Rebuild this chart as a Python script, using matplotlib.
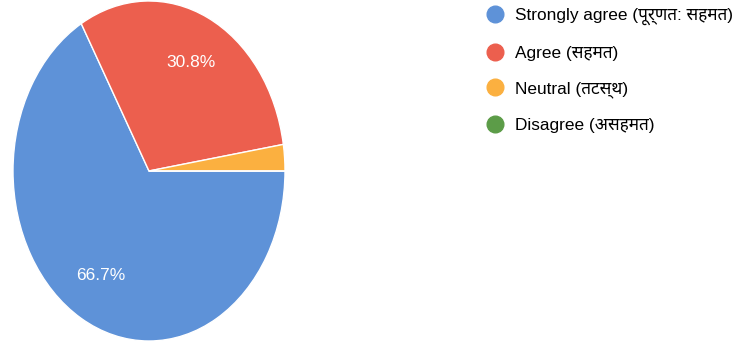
import matplotlib.pyplot as plt
from matplotlib.lines import Line2D

plt.rcParams['font.family'] = ['Liberation Sans', 'Noto Sans Devanagari', 'Noto Sans', 'DejaVu Sans']

# Survey answers (share of responses, %)
labels = ["Strongly agree (पूर्णत: सहमत)", "Agree (सहमत)", "Neutral (तटस्थ)", "Disagree (असहमत)"]
shares = [66.7, 30.8, 2.5, 0.0]
colors = ["#5e92d8", "#ec5f4e", "#fbb040", "#5c9c48"]

fig = plt.figure(figsize=(7.45, 3.48), dpi=100)

# pie axes (the chart is stretched vertically, so aspect is left free)
ax = fig.add_axes([13 / 745, 7 / 348, 272 / 745, 340 / 348])
wedges, _, autotexts = ax.pie(
    shares, colors=colors, startangle=0, counterclock=False,
    autopct=lambda p: f"{p:.1f}%" if p > 5 else "",
    pctdistance=0.71,
    wedgeprops=dict(edgecolor="white", linewidth=1),
    textprops=dict(color="white", fontsize=12.5),
)
ax.set_aspect("auto")
ax.set_xlim(-1, 1)
ax.set_ylim(-1, 1)

handles = [Line2D([], [], marker="o", linestyle="", markersize=12,
                  markerfacecolor=c, markeredgecolor=c) for c in colors]
fig.legend(handles, labels, loc="upper left", bbox_to_anchor=(469 / 745, 1.022),
           frameon=False, fontsize=12.4, labelspacing=1.18, handletextpad=0.55,
           handlelength=1.2)

fig.savefig("out.png", dpi=100)
